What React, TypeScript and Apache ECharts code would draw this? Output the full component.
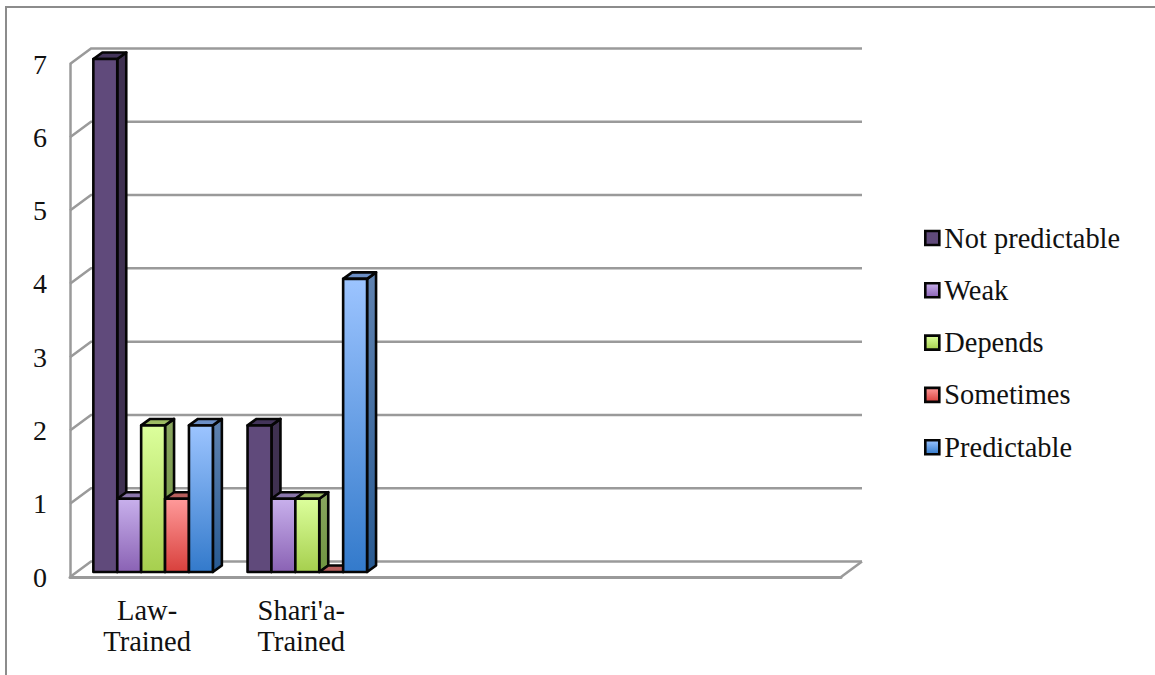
import React, { useEffect, useRef } from "react";
import * as echarts from "echarts";

const categories = ["Law-\nTrained", "Shari'a-\nTrained", " ", "  ", "   "];
const notPredictable = [7, 2];
const weak = [1, 1];
const depends = [2, 1];
const sometimes = [1, 0];
const predictable = [2, 4];
const seriesNames = ["Not predictable", "Weak", "Depends", "Sometimes", "Predictable"];
const seriesValues = [notPredictable, weak, depends, sometimes, predictable];
const yTicks = [0, 1, 2, 3, 4, 5, 6, 7];

const FONT = "Liberation Serif";
const grad = (a: string, b: string) =>
  new echarts.graphic.LinearGradient(0, 0, 0, 1, [
    { offset: 0, color: a },
    { offset: 1, color: b },
  ]);
const fronts = [
  ["#604a7b", "#604a7b"],
  ["#c8b0ec", "#8a62b4"],
  ["#dcff9c", "#a6cf4e"],
  ["#ff9a9a", "#d8403c"],
  ["#9cc4ff", "#337acb"],
];
const sides = [
  ["#3f3151", "#3f3151"],
  ["#665488", "#4e3a6c"],
  ["#8aa660", "#6f9440"],
  ["#b25c5a", "#8c2f2d"],
  ["#5f82b0", "#285a92"],
];
const tops = ["#43345a", "#8a76ab", "#9dbb63", "#b85f5d", "#6c8fc6"];

const BAR_SHARE = 0.155;
const FRONT_X = 6;
const FRONT_Y = 5;
const DEPTH_X = 9;
const DEPTH_Y = 6.5;
const WALL_X = 21;
const WALL_Y = 15.5;
const WALL_COLOR = "#9a9a9a";

export default function App() {
  const ref = useRef<HTMLDivElement>(null);
  useEffect(() => {
    const chart = echarts.init(ref.current!, undefined, { renderer: "svg" });
    const wallSeries = {
      type: "custom",
      silent: true,
      z: 1,
      coordinateSystem: "cartesian2d",
      data: yTicks.map((v) => [0, v]),
      encode: { x: 0, y: 1 },
      renderItem: (_p: any, api: any) => {
        const v = api.value(1);
        const p = api.coord([0, v]);
        const band = api.size([1, 0])[0];
        const x0 = p[0] - band / 2;
        const x1 = x0 + band * categories.length;
        const children: any[] = [
          {
            type: "polyline",
            shape: {
              points: [
                [x0, p[1]],
                [x0 + WALL_X, p[1] - WALL_Y],
                [x1 + WALL_X, p[1] - WALL_Y],
              ],
            },
            style: { fill: "none", stroke: WALL_COLOR, lineWidth: 2.5 },
          },
        ];
        if (v === 0) {
          children.push({
            type: "line",
            shape: { x1, y1: p[1], x2: x1 + WALL_X, y2: p[1] - WALL_Y },
            style: { stroke: WALL_COLOR, lineWidth: 2.5 },
          });
        }
        return { type: "group", children };
      },
    };
    const barSeries = seriesNames.map((name, si) => ({
      type: "custom",
      name,
      z: 3 + si,
      coordinateSystem: "cartesian2d",
      data: seriesValues[si].map((v, c) => [c, v]),
      encode: { x: 0, y: 1 },
      itemStyle: { color: grad(fronts[si][0], fronts[si][1]) },
      renderItem: (_p: any, api: any) => {
        const c = api.value(0);
        const v = api.value(1);
        const band = api.size([1, 0])[0];
        const w = band * BAR_SHARE;
        const center = api.coord([c, 0]);
        const xL = center[0] + FRONT_X + (si - 2.5) * w;
        const xR = xL + w;
        const yB = center[1] - FRONT_Y;
        const yT = api.coord([c, v])[1] - FRONT_Y;
        const stroke = { stroke: "#050505", lineWidth: 2.6, lineJoin: "round" };
        const children: any[] = [];
        children.push({
          type: "polygon",
          shape: {
            points: [
              [xR, yT],
              [xR + DEPTH_X, yT - DEPTH_Y],
              [xR + DEPTH_X, yB - DEPTH_Y],
              [xR, yB],
            ],
          },
          style: { fill: grad(sides[si][0], sides[si][1]), ...stroke },
        });
        children.push({
          type: "polygon",
          shape: {
            points: [
              [xL, yT],
              [xL + DEPTH_X, yT - DEPTH_Y],
              [xR + DEPTH_X, yT - DEPTH_Y],
              [xR, yT],
            ],
          },
          style: { fill: tops[si], ...stroke },
        });
        if (v > 0) {
          children.push({
            type: "rect",
            shape: { x: xL, y: yT, width: w, height: yB - yT },
            style: { fill: grad(fronts[si][0], fronts[si][1]), ...stroke },
          });
        }
        return { type: "group", children };
      },
    }));
    chart.setOption({
      animation: false,
      backgroundColor: "#ffffff",
      textStyle: { fontFamily: FONT },
      grid: { left: 70, right: 314, top: 64, bottom: 98, containLabel: false },
      xAxis: {
        type: "category",
        data: categories,
        boundaryGap: true,
        axisTick: { show: false },
        axisLine: { show: true, lineStyle: { color: WALL_COLOR, width: 3 } },
        axisLabel: {
          color: "#111",
          fontFamily: FONT,
          fontSize: 28.5,
          lineHeight: 31,
          margin: 18,
          interval: 0,
        },
      },
      yAxis: {
        type: "value",
        min: 0,
        max: 7,
        interval: 1,
        splitLine: { show: false },
        axisTick: { show: false },
        axisLine: { show: true, lineStyle: { color: WALL_COLOR, width: 2.5 } },
        axisLabel: {
          color: "#111",
          fontFamily: FONT,
          fontSize: 28,
          margin: 23,
          padding: [4, 0, 0, 0],
        },
      },
      legend: {
        orient: "vertical",
        left: 924,
        top: 223,
        padding: 0,
        icon: "rect",
        itemWidth: 14,
        itemHeight: 14,
        itemGap: 22.3,
        selectedMode: false,
        data: seriesNames.map((name, si) => ({
          name,
          itemStyle: {
            color: grad(fronts[si][0], fronts[si][1]),
            borderColor: "#050505",
            borderWidth: 2.6,
          },
        })),
        textStyle: {
          color: "#111",
          fontFamily: FONT,
          fontSize: 28.4,
          lineHeight: 30,
          height: 30,
        },
      },
      graphic: [
        {
          type: "polyline",
          silent: true,
          shape: {
            points: [
              [6, 675],
              [6, 7],
              [1155, 7],
            ],
          },
          style: { fill: "none", stroke: "#8c8c8c", lineWidth: 2 },
        },
      ],
      series: [wallSeries, ...barSeries],
    } as any);
    return () => chart.dispose();
  }, []);
  return (
    <div
      ref={ref}
      style={{ position: "absolute", left: 0, top: 0, width: 1155, height: 675 }}
    />
  );
}
